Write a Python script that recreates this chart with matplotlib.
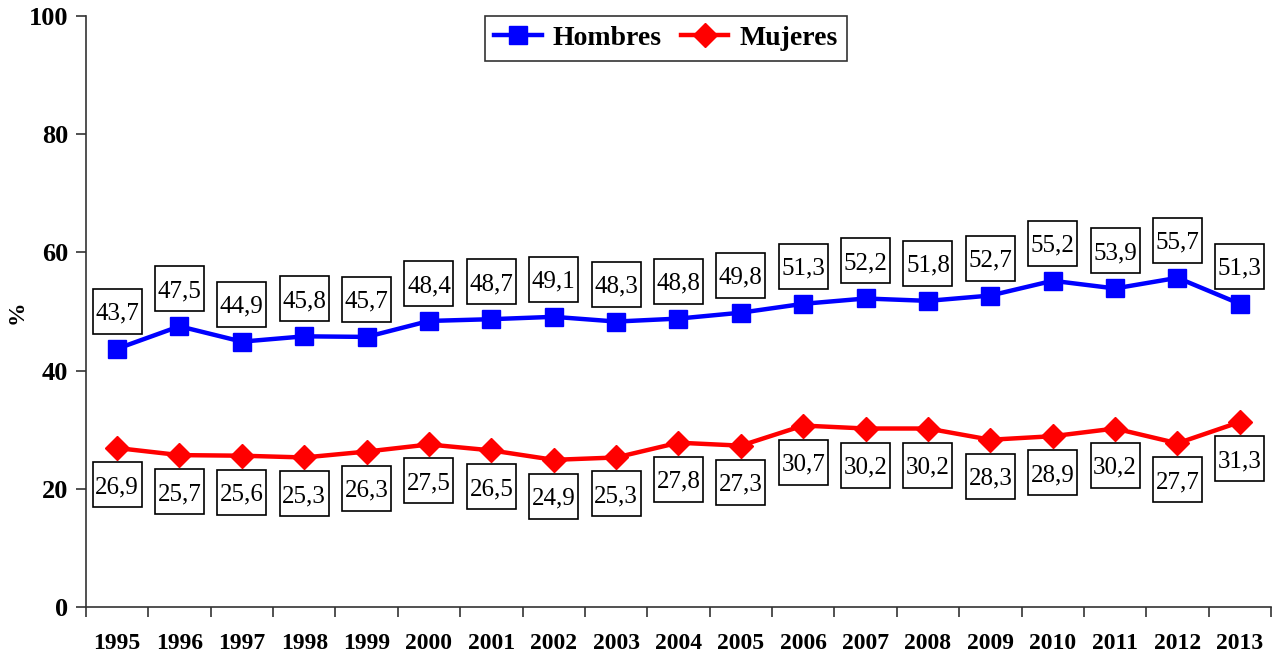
import matplotlib.pyplot as plt
import matplotlib.transforms as mtransforms
from matplotlib.patches import Rectangle
import numpy as np

years = [str(y) for y in range(1995, 2014)]
hombres = [43.7, 47.5, 44.9, 45.8, 45.7, 48.4, 48.7, 49.1, 48.3, 48.8,
           49.8, 51.3, 52.2, 51.8, 52.7, 55.2, 53.9, 55.7, 51.3]
mujeres = [26.9, 25.7, 25.6, 25.3, 26.3, 27.5, 26.5, 24.9, 25.3, 27.8,
           27.3, 30.7, 30.2, 30.2, 28.3, 28.9, 30.2, 27.7, 31.3]

plt.rcParams["font.family"] = ["Liberation Serif", "DejaVu Serif"]

fig = plt.figure(figsize=(12.77, 6.56), dpi=100)
ax = fig.add_axes([0.0673, 0.0747, 0.9280, 0.9009])

x = np.arange(len(years))
ax.plot(x, hombres, color="#0000ff", lw=3.2, marker="s", ms=13, label="Hombres", zorder=2)
ax.plot(x, mujeres, color="#ff0000", lw=3.2, marker="D", ms=12, label="Mujeres", zorder=2)


def fmt(v):
    return f"{v:.1f}".replace(".", ",")


# boxed value labels, box size in inches around an offset from the point
box_w, box_h = 0.49, 0.45


def label(xi, v, dy):
    trans = fig.dpi_scale_trans + mtransforms.ScaledTranslation(xi, v, ax.transData)
    ax.add_patch(Rectangle((-box_w / 2, dy - box_h / 2), box_w, box_h, transform=trans,
                           fc="white", ec="black", lw=1.2, zorder=3, clip_on=False))
    ax.text(0, dy, fmt(v), transform=trans, ha="center", va="center_baseline",
            fontsize=18, zorder=4)


for xi, v in zip(x, hombres):
    label(xi, v, 0.375)
for xi, v in zip(x, mujeres):
    label(xi, v, -0.365)

ax.set_xlim(-0.5, len(years) - 0.5)
ax.set_ylim(0, 100)
ax.set_yticks(range(0, 101, 20))
ax.set_xticks(x)
ax.set_xticklabels(years, fontsize=17, fontweight="bold")
ax.set_xticks(np.arange(-0.5, len(years), 1), minor=True)
ax.tick_params(axis="x", which="major", length=0, pad=19)
ax.tick_params(axis="x", which="minor", length=7, width=1.2, color="#333333", direction="out")
ax.tick_params(axis="y", length=7, width=1.2, color="#333333", labelsize=19, pad=6)
for lab in ax.get_yticklabels():
    lab.set_fontweight("bold")

for s in ["top", "right"]:
    ax.spines[s].set_visible(False)
for s in ["left", "bottom"]:
    ax.spines[s].set_color("#333333")
    ax.spines[s].set_linewidth(1.2)

fig.text(17 / 1277, 1 - 312 / 656, "%", rotation=90, fontsize=17, fontweight="bold",
         ha="center", va="center")

leg = ax.legend(loc="upper center", bbox_to_anchor=(0.4895, 1.0), ncol=2,
                prop={"size": 20, "weight": "bold"}, frameon=True, fancybox=False,
                edgecolor="black", handlelength=1.7, columnspacing=0.7,
                borderpad=0.35, handletextpad=0.4, borderaxespad=0)
leg.get_frame().set_linewidth(1.2)
leg.set_zorder(5)

fig.savefig("out.png", dpi=100)
